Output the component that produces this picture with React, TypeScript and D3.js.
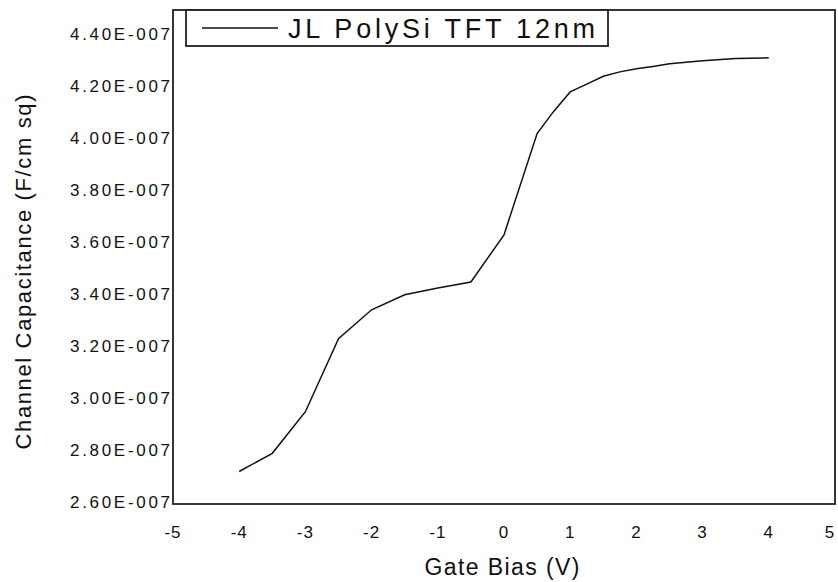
import React from "react";
import * as d3 from "d3";

const gateBias = [-4, -3.5, -3, -2.5, -2, -1.5, -1, -0.5, 0, 0.5, 0.75, 1, 1.25, 1.5, 1.75, 2, 2.25, 2.5, 3, 3.5, 4];
const capacitance = [2.725, 2.795, 2.955, 3.236, 3.347, 3.405, 3.431, 3.454, 3.635, 4.025, 4.11, 4.185, 4.215, 4.245, 4.262, 4.274, 4.283, 4.293, 4.305, 4.313, 4.316].map((v) => v * 1e-7);
const xTicks = [-5, -4, -3, -2, -1, 0, 1, 2, 3, 4, 5];
const yTicks = [2.6, 2.8, 3.0, 3.2, 3.4, 3.6, 3.8, 4.0, 4.2, 4.4].map((v) => v * 1e-7);
const seriesName = "JL PolySi TFT 12nm";
const xTitle = "Gate Bias (V)";
const yTitle = "Channel Capacitance (F/cm sq)";

const W = 838;
const H = 582;
const M = { left: 173, right: 835, top: 10, bottom: 504 };
const FONT = "'Liberation Sans', Arial, sans-serif";

export default function App() {
  const x = d3.scaleLinear().domain([-5, 5]).range([M.left, M.right]);
  const y = d3.scaleLinear().domain([2.6e-7, 4.5e-7]).range([M.bottom, M.top]);
  const pts: [number, number][] = gateBias.map((g, i) => [g, capacitance[i]]);
  const line = d3
    .line<[number, number]>()
    .x((d) => x(d[0]))
    .y((d) => y(d[1]));
  const fmt = (v: number) => (v * 1e7).toFixed(2) + "E-007";

  return (
    <svg
      width={W}
      height={H}
      style={{ position: "absolute", left: 0, top: 0, background: "#fff" }}
      fontFamily={FONT}
    >
      <rect x={0} y={0} width={W} height={H} fill="#fff" />
      <path d={line(pts) || ""} fill="none" stroke="#111" strokeWidth={1.5} />
      <rect
        x={M.left}
        y={M.top}
        width={M.right - M.left}
        height={M.bottom - M.top}
        fill="none"
        stroke="#222"
        strokeWidth={1.8}
      />
      {yTicks.map((t) => (
        <text
          key={"y" + t}
          x={170}
          y={y(t) - 2}
          textAnchor="end"
          dominantBaseline="central"
          fontSize={17}
          fill="#111"
          textLength={100}
          lengthAdjust="spacing"
        >
          {fmt(t)}
        </text>
      ))}
      {xTicks.map((t) => (
        <text
          key={"x" + t}
          x={Math.min(x(t), 830)}
          y={532}
          textAnchor="middle"
          dominantBaseline="central"
          fontSize={17}
          fill="#111"
          letterSpacing={1}
        >
          {t}
        </text>
      ))}
      <text
        x={502}
        y={575}
        textAnchor="middle"
        fontSize={23}
        fill="#111"
        textLength={155}
        lengthAdjust="spacing"
      >
        {xTitle}
      </text>
      <text
        transform={`translate(31,272) rotate(-90)`}
        textAnchor="middle"
        fontSize={22}
        fill="#111"
        textLength={355}
        lengthAdjust="spacing"
      >
        {yTitle}
      </text>
      <rect x={186} y={10} width={422} height={36} fill="#fff" stroke="#222" strokeWidth={1.8} />
      <line x1={202} x2={278} y1={28} y2={28} stroke="#111" strokeWidth={1.5} />
      <text
        x={288}
        y={38}
        fontSize={27}
        fill="#111"
        textLength={307}
        lengthAdjust="spacing"
      >
        {seriesName}
      </text>
    </svg>
  );
}
